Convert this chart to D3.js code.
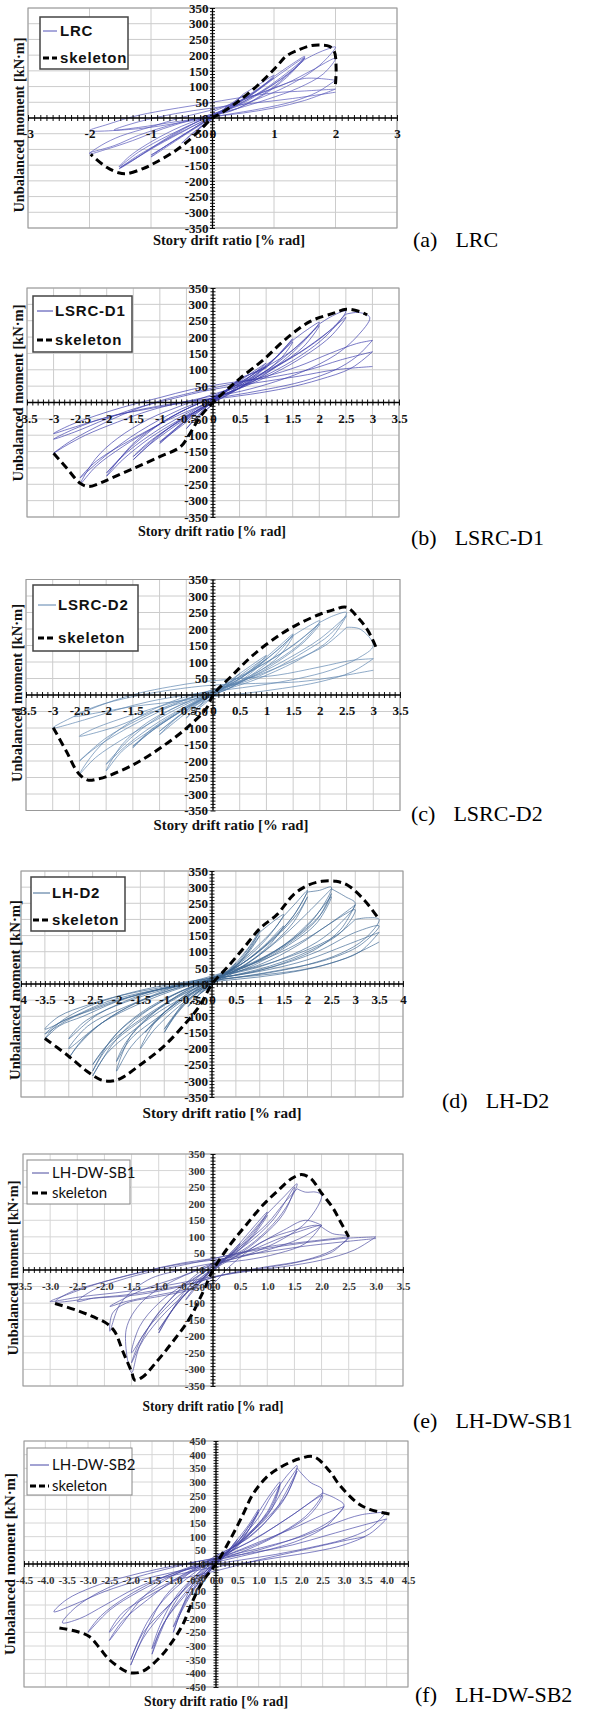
<!DOCTYPE html>
<html><head><meta charset="utf-8">
<script src="https://cdn.jsdelivr.net/npm/d3@7"></script>
<style>body{margin:0;background:#fff}svg{display:block}</style>
</head><body>
<svg id="fig" width="603" height="1711"></svg>
<script>
// ---------- specimen names ----------
const specimenNames = ["LRC", "LSRC-D1", "LSRC-D2", "LH-D2", "LH-DW-SB1", "LH-DW-SB2"];
const captionTags = ["(a)", "(b)", "(c)", "(d)", "(e)", "(f)"];
const xTitle = "Story drift ratio [% rad]";
const yTitle = "Unbalanced moment [kN·m]";

// ---------- tick values ----------
const xTicks3 = [-3, -2, -1, 0, 1, 2, 3];
const xTicks35 = [-3.5, -3, -2.5, -2, -1.5, -1, -0.5, 0, 0.5, 1, 1.5, 2, 2.5, 3, 3.5];
const xTicks4 = [-4, -3.5, -3, -2.5, -2, -1.5, -1, -0.5, 0, 0.5, 1, 1.5, 2, 2.5, 3, 3.5, 4];
const xTicks45 = [-4.5, -4, -3.5, -3, -2.5, -2, -1.5, -1, -0.5, 0, 0.5, 1, 1.5, 2, 2.5, 3, 3.5, 4, 4.5];
const yTicks350 = [-350, -300, -250, -200, -150, -100, -50, 0, 50, 100, 150, 200, 250, 300, 350];
const yTicks450 = [-450, -400, -350, -300, -250, -200, -150, -100, -50, 0, 50, 100, 150, 200, 250, 300, 350, 400, 450];

// ---------- LRC: [drift %, moment kN·m] ----------
const lrcSkeleton = [[2.0,108],[2.01,160],[1.98,212],[1.9,228],[1.75,232],[1.6,230],[1.42,218],[1.2,197],[1.04,163],[0.77,110],[0.44,56],[0.12,13],[0,0],[-0.21,-40],[-0.42,-77],[-0.64,-109],[-0.91,-140],[-1.13,-161],[-1.4,-177],[-1.53,-174],[-1.72,-157],[-1.98,-116]];
const lrcLoops = [
  [0,0, 0.1,16, 0.25,38, 0.14,22, 0,6, -0.12,-16, -0.25,-40, -0.12,-20, 0,-4, 0.12,16, 0.25,40],
  [0.25,40, 0.38,56, 0.5,72, 0.35,48, 0.12,16, -0.15,-22, -0.35,-55, -0.5,-80, -0.35,-52, -0.1,-15, 0.2,25, 0.5,76],
  [0.5,76, 0.75,106, 1.0,136, 0.8,100, 0.45,52, 0.1,12, -0.3,-35, -0.7,-86, -1.0,-124, -0.8,-94, -0.4,-44, 0,2, 0.5,56, 0.8,98, 1.0,132],
  [0,5, 0.5,62, 1.0,128, 0.75,92, 0.35,42, 0,6, -0.5,-58, -1.0,-118, -0.75,-88, -0.35,-38, 0,4],
  [1.0,132, 1.25,166, 1.5,196, 1.25,142, 0.9,86, 0.4,30, 0,8, -0.5,-36, -1.0,-96, -1.3,-136, -1.52,-162, -1.25,-124, -0.8,-74, -0.3,-24, 0.2,20, 0.8,86, 1.2,142, 1.5,190],
  [0,10, 0.6,70, 1.1,140, 1.5,192, 1.3,150, 0.9,95, 0.5,48, 0,12, -0.6,-50, -1.1,-110, -1.5,-158, -1.3,-135, -0.9,-88, -0.4,-35, 0,8],
  [1.5,190, 1.2,128, 0.8,70, 0.3,22, 0,8, -0.5,-26, -1.0,-76, -1.35,-122, -1.52,-156, -1.2,-108, -0.7,-54, -0.2,-8, 0.3,32, 0.9,96, 1.3,152, 1.5,186],
  [1.5,186, 1.7,206, 1.88,220, 2.0,226, 1.85,188, 1.6,146, 1.2,100, 0.7,58, 0.2,24, -0.3,-4, -0.8,-34, -1.3,-72, -1.7,-98, -2.0,-114, -1.8,-86, -1.5,-58, -1.0,-28, -0.5,2, 0,26, 0.5,58, 1.0,96, 1.5,126, 2.0,120],
  [0,20, 0.6,66, 1.2,110, 1.6,150, 2.0,190, 1.8,140, 1.4,96, 0.9,60, 0.4,30, 0,12, -0.6,-18, -1.2,-55, -1.6,-88, -2.0,-110],
  [2.0,120, 1.7,82, 1.3,52, 0.8,30, 0.2,10, -0.5,-14, -1.2,-34, -2.0,-40, -1.7,-20, -1.3,4, -0.8,24, -0.3,40, 0.3,60, 1.0,80, 1.5,86, 2.0,92],
  [2.0,92, 1.5,56, 1.0,32, 0.5,16, 0,4, -0.6,-12, -1.2,-30, -1.6,-38, -1.2,-12, -0.6,14, 0,32, 0.7,48, 1.3,62, 2.0,82]
];

// ---------- LSRC-D1 ----------
const lsrcD1Skeleton = [[-3.0,-155],[-2.75,-201],[-2.5,-247],[-2.34,-257],[-2.15,-248],[-1.99,-237],[-1.49,-201],[-0.99,-165],[-0.61,-135],[-0.43,-94],[-0.24,-43],[0,0],[0.26,39],[0.51,74],[0.95,131],[1.39,197],[1.83,248],[2.27,273],[2.51,285],[2.76,278],[2.9,268]];
const lsrcD1Loops = [
  [0,0, 0.25,38, 0.1,12, -0.25,-40, -0.1,-10, 0.25,38],
  [0.25,38, 0.5,72, 0.3,40, 0,8, -0.5,-80, -0.3,-45, 0,-5, 0.5,75],
  [0.5,75, 0.75,90, 1.0,110, 0.75,75, 0.4,35, 0,10, -0.5,-50, -1.0,-125, -0.75,-90, -0.4,-40, 0,0, 0.5,70, 1.0,105],
  [0,5, 0.5,65, 1.0,120, 0.7,80, 0.3,30, 0,5, -0.5,-60, -1.0,-120, -0.7,-80, -0.3,-30, 0,0],
  [1.0,105, 1.25,150, 1.5,195, 1.2,140, 0.8,85, 0.3,30, 0,10, -0.5,-40, -1.0,-100, -1.5,-175, -1.2,-130, -0.7,-70, -0.2,-15, 0.3,40, 0.8,85, 1.2,140, 1.5,190],
  [0,10, 0.7,80, 1.2,140, 1.5,185, 1.25,130, 0.8,75, 0.3,25, -0.3,-25, -0.9,-85, -1.5,-165, -1.2,-120, -0.6,-55, 0,5],
  [1.5,190, 1.75,220, 2.0,245, 1.7,185, 1.3,125, 0.8,70, 0.3,30, 0,15, -0.5,-20, -1.0,-65, -1.5,-125, -2.0,-225, -1.7,-175, -1.2,-110, -0.6,-50, 0,0, 0.6,55, 1.2,120, 1.7,190, 2.0,240],
  [0,15, 0.8,90, 1.5,160, 2.0,235, 1.7,170, 1.2,110, 0.6,50, 0,15, -0.8,-45, -1.5,-130, -2.0,-215, -1.6,-150, -1.0,-80, -0.4,-25, 0,10],
  [2.0,240, 2.25,265, 2.5,280, 2.2,215, 1.8,160, 1.2,100, 0.6,55, 0,25, -0.6,-10, -1.2,-50, -1.8,-110, -2.2,-170, -2.5,-250, -2.2,-195, -1.7,-135, -1.1,-75, -0.5,-20, 0,15, 0.6,60, 1.2,110, 1.8,170, 2.2,220, 2.5,270],
  [0,20, 0.8,80, 1.6,150, 2.2,220, 2.5,260, 2.2,200, 1.6,130, 0.9,70, 0.2,25, -0.6,-20, -1.4,-90, -2.0,-160, -2.5,-230, -2.2,-180, -1.5,-110, -0.8,-50, 0,5],
  [2.5,270, 2.75,275, 2.95,260, 2.7,200, 2.3,145, 1.7,95, 1.0,55, 0.4,30, 0,20, -0.6,0, -1.2,-25, -1.8,-60, -2.4,-100, -2.8,-135, -3.0,-155, -2.7,-120, -2.2,-75, -1.6,-30, -1.0,5, -0.4,30, 0.3,55, 1.0,80, 1.6,110, 2.2,150, 2.7,180, 3.0,190],
  [3.0,190, 2.7,140, 2.3,100, 1.7,65, 1.0,40, 0.3,20, -0.4,5, -1.0,-10, -1.6,-30, -2.2,-55, -2.7,-80, -3.0,-95, -2.7,-70, -2.2,-40, -1.6,-10, -1.0,15, -0.4,40, 0.3,60, 1.0,75, 1.8,100, 2.4,130, 3.0,155],
  [3.0,155, 2.6,105, 2.0,70, 1.4,45, 0.7,25, 0,10, -0.7,-5, -1.4,-25, -2.0,-45, -2.6,-80, -3.0,-112, -2.6,-90, -2.0,-50, -1.5,-20, -0.8,10, 0,40, 0.8,60, 1.6,80, 2.3,100, 3.0,110]
];

// ---------- LSRC-D2 ----------
const lsrcD2Skeleton = [[-2.99,-99],[-2.74,-172],[-2.52,-237],[-2.34,-258],[-2.15,-254],[-1.99,-247],[-1.5,-212],[-1.0,-162],[-0.5,-101],[-0.12,-40],[0,0],[0.37,61],[0.75,121],[1.25,182],[1.62,217],[1.99,244],[2.25,258],[2.5,266],[2.72,233],[2.9,195],[3.05,145]];
const lsrcD2Loops = [
  [0,0, 0.25,35, 0.1,10, -0.25,-38, -0.1,-8, 0.25,35],
  [0.25,35, 0.5,65, 0.3,35, 0,5, -0.5,-70, -0.3,-38, 0,-5, 0.5,65],
  [0.5,65, 1.0,120, 0.7,75, 0.3,25, 0,5, -0.5,-45, -1.0,-120, -0.7,-80, -0.3,-30, 0.2,20, 0.6,70, 1.0,115],
  [0,5, 0.6,60, 1.0,110, 0.7,65, 0.3,20, 0,0, -0.6,-60, -1.0,-110, -0.7,-70, -0.3,-25, 0,0],
  [1.0,115, 1.25,150, 1.5,185, 1.2,125, 0.8,70, 0.3,20, -0.2,-10, -0.7,-55, -1.2,-110, -1.5,-160, -1.2,-115, -0.7,-60, -0.2,-10, 0.4,40, 0.9,95, 1.3,150, 1.5,180],
  [0,10, 0.7,75, 1.2,135, 1.5,180, 1.25,120, 0.8,65, 0.3,20, -0.3,-20, -0.9,-80, -1.5,-155, -1.2,-115, -0.6,-50, 0,5],
  [1.5,180, 1.75,205, 2.0,225, 1.7,165, 1.2,105, 0.6,50, 0,10, -0.6,-30, -1.2,-80, -1.7,-150, -2.0,-230, -1.7,-170, -1.1,-100, -0.5,-40, 0.2,20, 0.8,80, 1.4,140, 1.8,190, 2.0,220],
  [0,15, 0.8,80, 1.5,150, 2.0,215, 1.7,160, 1.2,100, 0.6,45, 0,10, -0.8,-45, -1.5,-125, -2.0,-210, -1.6,-150, -1.0,-80, -0.4,-25, 0,10],
  [2.0,220, 2.25,240, 2.5,250, 2.2,185, 1.7,130, 1.1,75, 0.5,35, 0,15, -0.6,-10, -1.2,-50, -1.8,-110, -2.2,-170, -2.5,-240, -2.2,-190, -1.6,-125, -1.0,-70, -0.4,-20, 0.2,20, 0.8,60, 1.4,110, 2.0,170, 2.5,240],
  [2.5,240, 2.2,170, 1.7,115, 1.0,60, 0.4,25, -0.2,0, -0.8,-30, -1.4,-75, -2.0,-130, -2.5,-200, -2.2,-160, -1.6,-100, -1.0,-50, -0.3,0, 0.4,35, 1.0,70, 1.6,110, 2.1,150, 2.5,205],
  [-0.5,-20, -1.2,-55, -1.8,-95, -2.5,-125, -2.2,-100, -1.5,-60, -0.8,-25, 0,10],
  [2.5,205, 2.75,200, 3.0,150, 2.7,110, 2.2,75, 1.6,50, 0.9,30, 0.2,15, -0.5,0, -1.2,-20, -1.8,-45, -2.4,-75, -3.0,-100, -2.6,-65, -2.0,-25, -1.4,5, -0.8,25, -0.2,40, 0.5,50, 1.2,60, 2.0,85, 2.6,105, 3.0,110],
  [3.0,110, 2.6,70, 2.0,40, 1.3,20, 0.6,5, 0,-5, -0.7,-20, -1.5,-35, -2.2,-55, -2.6,-65, -2.2,-35, -1.5,-5, -0.8,15, 0,30, 0.8,35, 1.6,40, 2.3,55, 3.0,75]
];

// ---------- LH-D2 ----------
const lhD2Skeleton = [[-3.5,-169],[-3.04,-219],[-2.62,-270],[-2.34,-296],[-2.13,-301],[-1.92,-293],[-1.5,-250],[-1.01,-193],[-0.52,-116],[-0.24,-64],[0,0],[0.31,50],[0.66,111],[1.01,173],[1.36,215],[1.71,277],[2.0,305],[2.3,318],[2.6,318],[2.85,305],[3.2,258],[3.5,200]];
const lhD2Loops = [
  [0,0, 0.25,30, 0.1,10, -0.25,-30, -0.1,-8, 0.25,30],
  [0.25,30, 0.5,65, 0.3,30, 0,5, -0.5,-70, -0.3,-35, 0,-5, 0.5,65],
  [0.5,65, 0.75,110, 1.0,165, 0.75,100, 0.4,45, 0,15, -0.5,-40, -1.0,-150, -0.75,-95, -0.4,-40, 0,0, 0.5,60, 1.0,160],
  [0,5, 0.5,55, 1.0,150, 0.7,85, 0.3,30, 0,5, -0.5,-50, -1.0,-140, -0.7,-80, -0.3,-25, 0,0],
  [1.0,160, 1.25,190, 1.5,215, 1.2,150, 0.8,90, 0.3,35, -0.2,0, -0.7,-50, -1.2,-120, -1.5,-200, -1.2,-140, -0.7,-70, -0.2,-15, 0.4,45, 0.9,110, 1.3,170, 1.5,210],
  [0,10, 0.6,60, 1.1,120, 1.5,180, 1.2,120, 0.7,60, 0.2,15, -0.4,-20, -0.9,-75, -1.4,-150, -1.1,-100, -0.6,-45, 0,5],
  [1.5,210, 1.75,250, 2.0,290, 1.7,210, 1.2,130, 0.6,60, 0,20, -0.6,-25, -1.2,-85, -1.7,-160, -2.0,-270, -1.7,-195, -1.2,-120, -0.6,-50, 0,5, 0.6,60, 1.2,130, 1.7,210, 2.0,285],
  [0,10, 0.7,70, 1.3,140, 1.8,220, 2.0,270, 1.7,190, 1.2,115, 0.6,50, 0,15, -0.7,-35, -1.3,-100, -1.8,-180, -2.0,-240, -1.7,-170, -1.1,-100, -0.5,-35, 0,5],
  [2.0,285, 2.25,290, 2.5,300, 2.2,215, 1.7,140, 1.0,75, 0.3,30, -0.3,0, -1.0,-50, -1.6,-110, -2.1,-190, -2.5,-285, -2.2,-215, -1.7,-150, -1.1,-85, -0.4,-25, 0.2,20, 0.9,80, 1.5,150, 2.0,220, 2.5,295],
  [0,15, 0.8,60, 1.5,120, 2.1,200, 2.5,270, 2.2,190, 1.6,120, 0.9,60, 0.2,20, -0.6,-20, -1.3,-75, -1.9,-140, -2.3,-210, -2.5,-250, -2.2,-190, -1.5,-110, -0.8,-45, 0,10],
  [0,20, 0.9,70, 1.7,140, 2.3,220, 2.5,280, 2.2,200, 1.6,125, 0.9,65, 0.2,25, -0.7,-25, -1.5,-90, -2.1,-170, -2.5,-270, -2.2,-200, -1.5,-115, -0.7,-40, 0,10],
  [2.5,295, 2.8,270, 3.0,250, 2.7,190, 2.2,130, 1.5,80, 0.8,45, 0,20, -0.8,-15, -1.6,-60, -2.3,-120, -2.8,-190, -3.0,-230, -2.7,-170, -2.1,-100, -1.4,-45, -0.7,-5, 0,25, 0.8,60, 1.6,110, 2.3,170, 3.0,245],
  [0,20, 1.0,60, 1.8,120, 2.5,190, 3.0,230, 2.7,160, 2.0,100, 1.2,55, 0.4,25, -0.6,-10, -1.5,-60, -2.3,-120, -3.0,-200, -2.6,-130, -1.8,-70, -1.0,-25, 0,15],
  [3.0,245, 2.7,170, 2.2,110, 1.5,65, 0.8,35, 0,15, -0.8,-10, -1.6,-45, -2.4,-95, -3.0,-170, -2.7,-120, -2.0,-65, -1.3,-25, -0.5,5, 0.3,30, 1.1,60, 1.9,100, 2.6,150, 3.0,200],
  [3.0,200, 3.25,205, 3.5,200, 3.2,140, 2.7,95, 2.0,60, 1.2,35, 0.4,18, -0.4,2, -1.2,-20, -2.0,-55, -2.7,-100, -3.2,-130, -3.5,-170, -3.2,-120, -2.6,-70, -1.9,-35, -1.2,-10, -0.4,10, 0.4,25, 1.2,45, 2.0,75, 2.8,120, 3.5,160],
  [0,15, 1.2,50, 2.2,100, 3.0,160, 3.5,180, 3.1,120, 2.4,75, 1.5,45, 0.5,20, -0.5,0, -1.5,-30, -2.5,-80, -3.2,-120, -3.5,-155, -3.0,-110, -2.2,-60, -1.3,-25, -0.4,5],
  [3.5,160, 3.1,100, 2.5,65, 1.8,40, 1.0,22, 0.2,10, -0.6,-5, -1.4,-25, -2.2,-55, -2.9,-100, -3.5,-140, -3.2,-100, -2.6,-65, -1.9,-35, -1.1,-12, -0.3,8, 0.5,20, 1.3,32, 2.1,50, 2.8,80, 3.5,130]
];

// ---------- LH-DW-SB1 ----------
const lhdwsb1Skeleton = [[-2.91,-101],[-2.52,-121],[-2.21,-141],[-1.96,-161],[-1.81,-186],[-1.66,-246],[-1.5,-307],[-1.44,-332],[-1.29,-322],[-1.04,-277],[-0.74,-216],[-0.43,-146],[-0.18,-65],[0,0],[0.31,75],[0.61,136],[0.92,196],[1.2,240],[1.45,276],[1.63,288],[1.8,276],[2.0,232],[2.21,187],[2.34,148],[2.5,100]];
const lhdwsb1Loops = [
  [0,0, 0.25,40, 0.1,12, -0.25,-40, -0.1,-10, 0.25,40],
  [0.25,40, 0.5,80, 0.3,40, 0,5, -0.5,-90, -0.3,-45, 0,-5, 0.5,82],
  [0.5,82, 0.75,130, 1.0,175, 0.75,110, 0.4,50, 0,15, -0.5,-60, -1.0,-190, -0.75,-120, -0.4,-55, 0,0, 0.5,75, 1.0,170],
  [0,5, 0.5,70, 1.0,165, 0.7,95, 0.3,35, 0,5, -0.5,-70, -1.0,-180, -0.7,-110, -0.3,-40, 0,0],
  [1.0,170, 1.3,220, 1.55,260, 1.35,190, 1.0,120, 0.5,55, 0,20, -0.5,-40, -1.0,-130, -1.3,-200, -1.5,-250, -1.35,-170, -1.0,-100, -0.5,-40, 0,10, 0.5,70, 1.0,140, 1.3,200, 1.55,245],
  [0,15, 0.6,75, 1.1,150, 1.5,250, 1.3,170, 0.9,100, 0.4,40, 0,10, -0.6,-60, -1.1,-150, -1.5,-280, -1.3,-200, -0.9,-120, -0.4,-45, 0,5],
  [1.55,245, 1.7,235, 1.9,235, 2.0,225, 1.75,150, 1.3,95, 0.7,50, 0,15, -0.7,-30, -1.3,-95, -1.6,-180, -1.5,-310, -1.35,-230, -1.0,-150, -0.5,-70, 0,0, 0.7,65, 1.3,120, 1.7,150, 2.0,135],
  [2.0,135, 1.7,80, 1.2,50, 0.6,30, 0,20, -0.6,0, -1.2,-30, -1.7,-100, -1.9,-185, -1.85,-130, -1.6,-100, -1.0,-80, -0.4,-60, 0,-40, 0.3,10, 0.9,85, 1.5,120, 1.9,135, 2.0,130],
  [0,25, 0.7,60, 1.3,100, 2.0,135, 1.6,95, 1.0,60, 0.4,35, 0,20, -0.6,-20, -1.3,-60, -1.9,-110, -1.6,-95, -1.0,-75, -0.4,-55, 0,-30],
  [2.0,130, 2.2,110, 2.5,100, 2.2,60, 1.7,30, 1.0,10, 0.3,-10, -0.4,-40, -1.0,-60, -1.6,-75, -2.2,-85, -2.5,-95, -2.2,-60, -1.6,-25, -1.0,0, -0.4,20, 0.3,45, 1.0,70, 1.7,85, 2.5,100],
  [2.5,100, 2.2,55, 1.6,25, 0.9,5, 0.2,-15, -0.6,-50, -1.4,-75, -2.2,-85, -2.9,-95, -2.6,-65, -2.0,-35, -1.3,-5, -0.6,20, 0,35, 0.8,60, 1.6,80, 2.4,95, 3.0,100],
  [3.0,100, 2.6,60, 2.0,30, 1.3,10, 0.6,-5, 0,-20, -0.8,-45, -1.6,-65, -2.4,-80, -3.0,-95, -2.7,-75, -2.1,-40, -1.4,-10, -0.7,15, 0,30, 0.8,50, 1.6,70, 2.4,85, 3.0,95]
];

// ---------- LH-DW-SB2 ----------
const lhdwsb2Skeleton = [[-3.67,-234],[-3.28,-246],[-2.97,-265],[-2.73,-307],[-2.5,-350],[-2.11,-393],[-1.95,-399],[-1.72,-393],[-1.33,-344],[-1.02,-283],[-0.78,-222],[-0.55,-137],[-0.31,-63],[0,0],[0.31,83],[0.63,180],[0.86,254],[1.17,315],[1.48,351],[1.95,385],[2.3,392],[2.66,340],[2.89,290],[3.3,225],[3.6,200],[4.1,182]];
const lhdwsb2Loops = [
  [0,0, 0.25,40, 0.1,10, -0.25,-40, -0.1,-10, 0.25,40],
  [0.25,40, 0.5,90, 0.3,45, 0,5, -0.5,-110, -0.3,-50, 0,-5, 0.5,90],
  [0.5,90, 0.75,140, 1.0,200, 0.75,120, 0.4,50, 0,15, -0.5,-60, -1.0,-250, -0.75,-150, -0.4,-60, 0,0, 0.5,80, 1.0,190],
  [0,5, 0.5,80, 1.0,190, 0.7,110, 0.3,40, 0,5, -0.5,-90, -1.0,-230, -0.7,-130, -0.3,-50, 0,0],
  [1.0,190, 1.25,250, 1.5,300, 1.3,210, 0.9,130, 0.4,60, 0,20, -0.5,-45, -1.0,-150, -1.3,-250, -1.5,-330, -1.3,-240, -0.9,-140, -0.4,-50, 0,5, 0.5,80, 1.0,170, 1.3,250, 1.5,290],
  [0,20, 0.6,85, 1.2,190, 1.5,290, 1.3,200, 0.8,110, 0.3,40, -0.3,-20, -0.9,-110, -1.3,-220, -1.5,-310, -1.2,-210, -0.7,-110, -0.2,-20, 0,10],
  [1.5,290, 1.7,330, 1.9,360, 1.65,250, 1.2,160, 0.6,80, 0,30, -0.6,-30, -1.2,-120, -1.6,-230, -2.0,-370, -1.7,-270, -1.2,-170, -0.6,-70, 0,10, 0.6,90, 1.2,180, 1.6,280, 1.9,350],
  [0,30, 0.8,100, 1.4,200, 1.9,340, 1.6,240, 1.0,140, 0.4,60, -0.4,-20, -1.1,-110, -1.6,-210, -2.0,-350, -1.7,-250, -1.1,-150, -0.5,-60, 0,5],
  [1.9,350, 2.2,300, 2.5,270, 2.2,190, 1.7,130, 1.0,75, 0.3,35, -0.4,0, -1.1,-50, -1.7,-120, -2.2,-220, -2.5,-280, -2.2,-210, -1.6,-130, -1.0,-60, -0.3,0, 0.4,50, 1.1,110, 1.8,180, 2.5,260],
  [0,25, 0.9,90, 1.7,170, 2.5,250, 2.2,180, 1.5,110, 0.7,50, -0.2,0, -1.0,-60, -1.8,-130, -2.5,-250, -2.2,-180, -1.5,-110, -0.7,-40, 0,15],
  [2.5,260, 2.8,240, 3.0,215, 2.7,160, 2.1,110, 1.4,70, 0.6,35, -0.2,5, -1.0,-40, -1.8,-100, -2.5,-170, -3.0,-250, -2.7,-190, -2.1,-120, -1.4,-60, -0.6,-10, 0.2,30, 1.0,80, 1.8,130, 2.5,180, 3.0,210],
  [3.0,210, 2.6,140, 2.0,90, 1.3,55, 0.5,25, -0.3,-5, -1.1,-40, -1.9,-90, -2.6,-150, -3.2,-200, -3.6,-215, -3.3,-160, -2.7,-100, -2.0,-55, -1.2,-20, -0.4,10, 0.4,35, 1.2,65, 2.0,100, 2.8,150, 3.4,180, 4.0,190],
  [4.0,190, 3.6,130, 3.0,90, 2.2,60, 1.4,35, 0.6,15, -0.2,-5, -1.0,-30, -1.8,-60, -2.6,-100, -3.2,-140, -3.8,-175, -3.5,-130, -2.9,-85, -2.2,-50, -1.4,-20, -0.6,5, 0.2,25, 1.0,45, 1.8,70, 2.6,105, 3.4,140, 4.0,165],
  [4.0,165, 3.6,110, 3.0,70, 2.3,45, 1.5,25, 0.7,5, 0,-10, -0.8,-35, -1.4,-55],
  [-1.0,-60, 0,-25, 1.0,15, 2.0,50, 3.0,85, 3.5,100]
];

// ---------- layout of the six panels ----------
const fmtPlain = d => String(d);
const fmtOne = d => d.toFixed(1);
const panels = [
  { skeleton: lrcSkeleton, loops: lrcLoops, color: "#5252b8", xDomain: [-3, 3], yDomain: [-350, 350],
    left: 28, right: 397, top: 8, bottom: 228, xTicks: xTicks3, yTicks: yTicks350, fmt: fmtPlain, tickFont: 13, labelGap: 4,
    legend: { x: 40, y: 17, w: 88, h: 52, r1: 31, r2: 58, s0: 43, s1: 57, tx: 60, style: "bold" },
    yT: { x: 19, y: 125, len: 175 }, xT: { x: 229, y: 245, len: 152 }, cap: { x: 413, y: 247 } },
  { skeleton: lsrcD1Skeleton, loops: lsrcD1Loops, color: "#3c3caa", xDomain: [-3.5, 3.5], yDomain: [-350, 350],
    left: 27, right: 399, top: 288, bottom: 517, xTicks: xTicks35, yTicks: yTicks350, fmt: fmtPlain, tickFont: 13, labelGap: 5,
    legend: { x: 33, y: 296, w: 99, h: 56, r1: 311, r2: 340, s0: 37, s1: 53, tx: 55, style: "bold" },
    yT: { x: 18, y: 393, len: 177 }, xT: { x: 212, y: 536, len: 148 }, cap: { x: 411, y: 545 } },
  { skeleton: lsrcD2Skeleton, loops: lsrcD2Loops, color: "#5a82ad", xDomain: [-3.5, 3.5], yDomain: [-350, 350],
    left: 26, right: 400, top: 579.5, bottom: 810.5, xTicks: xTicks35, yTicks: yTicks350, fmt: fmtPlain, tickFont: 13, labelGap: 5,
    legend: { x: 33, y: 585, w: 105, h: 66, r1: 605, r2: 638, s0: 38, s1: 56, tx: 58, style: "bold" },
    yT: { x: 17, y: 693, len: 178 }, xT: { x: 231, y: 830, len: 155 }, cap: { x: 411, y: 821 } },
  { skeleton: lhD2Skeleton, loops: lhD2Loops, color: "#3e6893", xDomain: [-4, 4], yDomain: [-350, 350],
    left: 21, right: 403, top: 871, bottom: 1097, xTicks: xTicks4, yTicks: yTicks350, fmt: fmtPlain, tickFont: 13, labelGap: 4,
    legend: { x: 31, y: 877, w: 94, h: 54, r1: 893, r2: 920, s0: 33, s1: 50, tx: 52, style: "bold" },
    yT: { x: 15, y: 990, len: 180 }, xT: { x: 222, y: 1118, len: 159 }, cap: { x: 442, y: 1108 } },
  { skeleton: lhdwsb1Skeleton, loops: lhdwsb1Loops, color: "#4a4a9e", xDomain: [-3.5, 3.5], yDomain: [-350, 350],
    left: 23, right: 403, top: 1154, bottom: 1386, xTicks: xTicks35, yTicks: yTicks350, fmt: fmtOne, tickFont: 11, labelGap: 8,
    legend: { x: 27, y: 1160, w: 103, h: 44, r1: 1173, r2: 1193, s0: 32, s1: 49, tx: 52, style: "light" },
    yT: { x: 13, y: 1268, len: 175 }, xT: { x: 213, y: 1411, len: 141 }, cap: { x: 413, y: 1428 } },
  { skeleton: lhdwsb2Skeleton, loops: lhdwsb2Loops, color: "#4646a6", xDomain: [-4.5, 4.5], yDomain: [-450, 450],
    left: 24, right: 408, top: 1441, bottom: 1687, xTicks: xTicks45, yTicks: yTicks450, fmt: fmtOne, tickFont: 11, labelGap: 10,
    legend: { x: 27, y: 1448, w: 105, h: 47, r1: 1465, r2: 1486, s0: 30, s1: 49, tx: 52, style: "light" },
    yT: { x: 10, y: 1564, len: 182 }, xT: { x: 216, y: 1706, len: 144 }, cap: { x: 415, y: 1702 } }
];

const svg = d3.select("#fig");
svg.append("rect").attr("width", 603).attr("height", 1711).attr("fill", "#fff");
const SERIF = "'Liberation Serif','Times New Roman',serif";
const SANS = "'Liberation Sans',Arial,sans-serif";

function toPairs(flat) {
  const out = [];
  for (let i = 0; i < flat.length; i += 2) out.push([flat[i], flat[i + 1]]);
  return out;
}

function drawPanel(p, i) {
  const x = d3.scaleLinear().domain(p.xDomain).range([p.left, p.right]);
  const y = d3.scaleLinear().domain(p.yDomain).range([p.bottom, p.top]);
  const g = svg.append("g");
  const x0 = x(0), y0 = y(0);
  const light = p.legend.style === "light";

  // grid
  g.append("g").selectAll("line").data(p.xTicks).join("line")
    .attr("x1", d => x(d)).attr("x2", d => x(d)).attr("y1", p.top).attr("y2", p.bottom)
    .attr("stroke", light ? "#d6d6d6" : "#cccccc").attr("stroke-width", 1);
  g.append("g").selectAll("line").data(p.yTicks).join("line")
    .attr("x1", p.left).attr("x2", p.right).attr("y1", d => y(d)).attr("y2", d => y(d))
    .attr("stroke", light ? "#d6d6d6" : "#cccccc").attr("stroke-width", 1);
  g.append("rect").attr("x", p.left).attr("y", p.top)
    .attr("width", p.right - p.left).attr("height", p.bottom - p.top)
    .attr("fill", "none").attr("stroke", "#999").attr("stroke-width", 1);

  // hysteresis loops
  const line = d3.line().x(d => x(d[0])).y(d => y(d[1])).curve(d3.curveCatmullRom.alpha(0.5));
  g.append("g").selectAll("path").data(p.loops).join("path")
    .attr("d", d => line(toPairs(d)))
    .attr("fill", "none").attr("stroke", p.color).attr("stroke-width", 0.8).attr("stroke-opacity", 0.85);

  // axes through the origin with crossing minor ticks
  const xStep = 0.1, yStep = 10;
  const xMinor = d3.range(Math.round(p.xDomain[0] / xStep), Math.round(p.xDomain[1] / xStep) + 1).map(k => +(k * xStep).toFixed(2));
  const yMinor = d3.range(p.yDomain[0] / yStep, p.yDomain[1] / yStep + 1).map(k => k * yStep);
  const xa = g.append("g").attr("transform", `translate(0,${y0 - 3})`)
    .call(d3.axisBottom(x).tickValues(xMinor).tickSize(6).tickFormat(""));
  xa.select(".domain").remove();
  xa.selectAll("text").remove();
  xa.selectAll("line").attr("stroke", "#111");
  const ya = g.append("g").attr("transform", `translate(${x0 + 2.5},0)`)
    .call(d3.axisLeft(y).tickValues(yMinor).tickSize(5).tickFormat(""));
  ya.select(".domain").remove();
  ya.selectAll("text").remove();
  ya.selectAll("line").attr("stroke", "#111");
  g.append("line").attr("x1", p.left).attr("x2", p.right).attr("y1", y0).attr("y2", y0)
    .attr("stroke", "#000").attr("stroke-width", 1.3);
  g.append("line").attr("x1", x0).attr("x2", x0).attr("y1", p.top).attr("y2", p.bottom)
    .attr("stroke", "#000").attr("stroke-width", 1.3);

  // skeleton curve
  g.append("path").attr("d", line(p.skeleton))
    .attr("fill", "none").attr("stroke", "#000").attr("stroke-width", 3)
    .attr("stroke-dasharray", "8,4.5").attr("stroke-linecap", "butt");

  // tick labels
  const labColor = light ? "#333" : "#111";
  const xl = g.append("g").attr("transform", `translate(0,${y0})`)
    .call(d3.axisBottom(x).tickValues(p.xTicks).tickSize(0).tickPadding(20 - 0.71 * p.tickFont).tickFormat(p.fmt));
  xl.select(".domain").remove();
  xl.selectAll("text").attr("font-family", SERIF).attr("font-weight", "bold")
    .attr("font-size", p.tickFont).attr("fill", labColor);
  const yl = g.append("g").attr("transform", `translate(${x0},0)`)
    .call(d3.axisLeft(y).tickValues(p.yTicks).tickSize(0).tickPadding(p.labelGap).tickFormat(fmtPlain));
  yl.select(".domain").remove();
  yl.selectAll("text").attr("font-family", SERIF).attr("font-weight", "bold")
    .attr("font-size", p.tickFont).attr("fill", labColor);

  // legend
  const L = p.legend;
  g.append("rect").attr("x", L.x).attr("y", L.y).attr("width", L.w).attr("height", L.h)
    .attr("fill", "#fff").attr("stroke", light ? "#888" : "#444").attr("stroke-width", light ? 1 : 1.5);
  g.append("line").attr("x1", L.s0).attr("x2", L.s1).attr("y1", L.r1).attr("y2", L.r1)
    .attr("stroke", p.color).attr("stroke-width", 1);
  g.append("line").attr("x1", L.s0).attr("x2", L.s1).attr("y1", L.r2).attr("y2", L.r2)
    .attr("stroke", "#000").attr("stroke-width", 3).attr("stroke-dasharray", "6,3");
  const legText = (txt, yy) => g.append("text").attr("x", L.tx).attr("y", yy).attr("dy", "0.36em")
    .attr("font-family", light ? "Lato,'Noto Sans',sans-serif" : SANS)
    .attr("font-weight", light ? "normal" : "bold")
    .attr("font-size", 15).attr("letter-spacing", light ? 0 : 0.8)
    .attr("fill", "#111").text(txt);
  legText(specimenNames[i], L.r1);
  legText("skeleton", L.r2);

  // axis titles
  g.append("text").attr("transform", `translate(${p.yT.x},${p.yT.y}) rotate(-90)`)
    .attr("text-anchor", "middle").attr("dy", "0.35em")
    .attr("font-family", SERIF).attr("font-weight", "bold").attr("font-size", 14)
    .attr("textLength", p.yT.len).attr("lengthAdjust", "spacingAndGlyphs")
    .attr("fill", "#111").text(yTitle);
  g.append("text").attr("x", p.xT.x).attr("y", p.xT.y).attr("text-anchor", "middle")
    .attr("font-family", SERIF).attr("font-weight", "bold").attr("font-size", 14)
    .attr("textLength", p.xT.len).attr("lengthAdjust", "spacingAndGlyphs")
    .attr("fill", "#111").text(xTitle);

  // caption
  const tag = g.append("text").attr("x", p.cap.x).attr("y", p.cap.y)
    .attr("font-family", SERIF).attr("font-size", 22).attr("fill", "#000").text(captionTags[i]);
  const tw = tag.node().getComputedTextLength();
  g.append("text").attr("x", p.cap.x + tw + 18).attr("y", p.cap.y)
    .attr("font-family", SERIF).attr("font-size", 22).attr("fill", "#000").text(specimenNames[i]);
}

panels.forEach(drawPanel);
</script>
</body></html>
